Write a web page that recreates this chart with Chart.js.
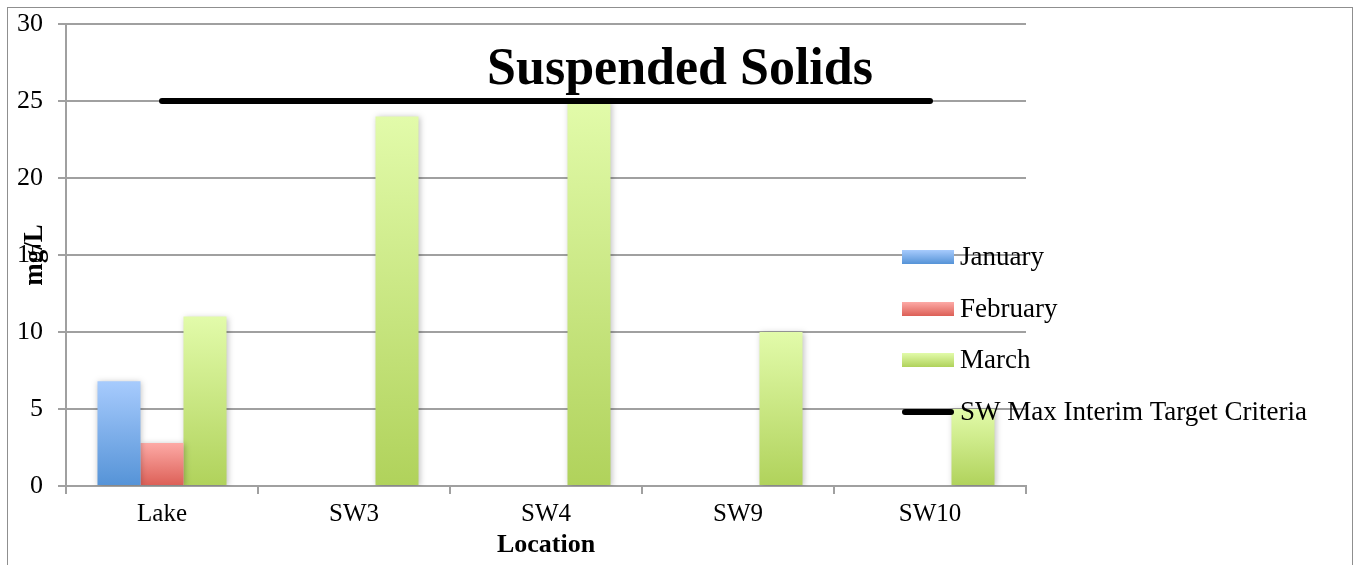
<!DOCTYPE html>
<html>
<head>
<meta charset="utf-8">
<style>
  html, body { margin: 0; padding: 0; background: #fff; }
  #wrap { width: 1360px; height: 565px; position: relative; }
</style>
<script src="https://cdn.jsdelivr.net/npm/chart.js@4/dist/chart.umd.min.js"></script>
</head>
<body>
<div id="wrap"><canvas id="c" width="1360" height="565"></canvas></div>
<script>
const categories = ['Lake', 'SW3', 'SW4', 'SW9', 'SW10'];
const january = [6.8, null, null, null, null];
const february = [2.8, null, null, null, null];
const march = [11, 24, 25, 10, 5];
const criteria = [25, 25, 25, 25, 25];
const yTicks = [0, 5, 10, 15, 20, 25, 30];
const titleText = 'Suspended Solids';
const yTitle = 'mg/L';
const xTitle = 'Location';

const FONT = '"Liberation Serif", "DejaVu Serif", serif';

function grad(top, bottom) {
  return function (ctx) {
    const chart = ctx.chart;
    if (!chart.chartArea || ctx.parsed == null || ctx.parsed.y == null) return bottom;
    const y = chart.scales.y;
    const y0 = y.getPixelForValue(ctx.parsed.y);
    const y1 = y.getPixelForValue(0);
    if (!isFinite(y0) || !isFinite(y1) || y0 === y1) return bottom;
    const g = chart.ctx.createLinearGradient(0, y0, 0, y1);
    g.addColorStop(0, top);
    g.addColorStop(1, bottom);
    return g;
  };
}

const legendSwatch = [
  { top: '#a7cbfd', bottom: '#5593d7' },
  { top: '#fdaaa6', bottom: '#dc5f56' },
  { top: '#e2fbaa', bottom: '#b0d25b' },
  null
];

const decorPlugin = {
  id: 'decor',
  beforeDraw(chart) {
    const c = chart.ctx;
    c.save();
    c.strokeStyle = '#8f8f8f';
    c.lineWidth = 1;
    c.strokeRect(7.5, 7.5, chart.width - 15, chart.height + 20);
    c.restore();
  },
  beforeDatasetDraw(chart, args) {
    if (args.meta.type === 'bar') {
      const c = chart.ctx;
      c.save();
      c.shadowColor = 'rgba(0,0,0,0.25)';
      c.shadowBlur = 6;
      c.shadowOffsetX = 1;
      c.shadowOffsetY = 1;
    }
  },
  afterDatasetDraw(chart, args) {
    if (args.meta.type === 'bar') chart.ctx.restore();
  },
  afterDraw(chart) {
    const c = chart.ctx;
    c.save();
    // title
    c.fillStyle = '#000';
    c.font = 'bold 52px ' + FONT;
    c.textAlign = 'center';
    c.textBaseline = 'alphabetic';
    c.fillText(titleText, chart.width / 2, 84);
    // y title (rotated)
    c.save();
    c.translate(35, 255);
    c.rotate(-Math.PI / 2);
    c.textBaseline = 'middle';
    c.font = 'bold 27px ' + FONT;
    c.fillText(yTitle, 0, 0);
    c.restore();
    // legend
    const lx = 902, sw = 52, tx = 960;
    const ys = [257, 309, 360, 412];
    c.font = '27px ' + FONT;
    c.textAlign = 'left';
    c.textBaseline = 'middle';
    chart.data.datasets.forEach((ds, i) => {
      const yy = ys[i];
      const s = legendSwatch[i];
      if (s) {
        const g = c.createLinearGradient(0, yy - 7, 0, yy + 7);
        g.addColorStop(0, s.top);
        g.addColorStop(1, s.bottom);
        c.fillStyle = g;
        c.fillRect(lx, yy - 7, sw, 14);
      } else {
        c.strokeStyle = ds.borderColor;
        c.lineWidth = 6;
        c.lineCap = 'round';
        c.beginPath();
        c.moveTo(lx + 3, yy);
        c.lineTo(lx + sw - 3, yy);
        c.stroke();
      }
      c.fillStyle = '#000';
      c.fillText(ds.label, tx, yy + 1);
    });
    c.restore();
  }
};

new Chart(document.getElementById('c'), {
  data: {
    labels: categories,
    datasets: [
      { type: 'bar', label: 'January', data: january, backgroundColor: grad('#a7cbfd', '#5593d7'), order: 2 },
      { type: 'bar', label: 'February', data: february, backgroundColor: grad('#fdaaa6', '#dc5f56'), order: 2 },
      { type: 'bar', label: 'March', data: march, backgroundColor: grad('#e2fbaa', '#b0d25b'), order: 2 },
      { type: 'line', label: 'SW Max Interim Target Criteria', data: criteria, borderColor: '#000', borderWidth: 6,
        borderCapStyle: 'round', pointRadius: 0, fill: false, order: 1 }
    ]
  },
  options: {
    responsive: false,
    animation: false,
    devicePixelRatio: 1,
    layout: { padding: { top: 24, right: 334, bottom: 0, left: 0 } },
    datasets: { bar: { categoryPercentage: 0.672, barPercentage: 1.0 } },
    plugins: { legend: { display: false }, title: { display: false }, tooltip: { enabled: false } },
    scales: {
      x: {
        grid: { display: true, drawOnChartArea: false, drawTicks: true, tickLength: 8, color: '#a0a0a0', lineWidth: 2, offset: true },
        border: { display: true, color: '#a0a0a0', width: 2 },
        ticks: { color: '#000', font: { family: FONT, size: 25 }, padding: 5, maxRotation: 0 },
        title: { display: true, text: xTitle, color: '#000', font: { family: FONT, size: 26, weight: 'bold' }, padding: { top: 0, bottom: 4 } },
        afterFit(s) { s.height = 79; s.paddingLeft = 0; s.paddingRight = 0; }
      },
      y: {
        min: 0, max: 30,
        afterBuildTicks(s) { s.ticks = yTicks.map(v => ({ value: v })); },
        grid: { color: '#a0a0a0', lineWidth: 2, tickLength: 8, drawTicks: true },
        border: { display: true, color: '#a0a0a0', width: 2 },
        ticks: { color: '#000', font: { family: FONT, size: 26 }, padding: 15 },
        afterFit(s) { s.width = 66; s.paddingTop = 0; s.paddingBottom = 0; }
      }
    }
  },
  plugins: [decorPlugin]
});
</script>
</body>
</html>
